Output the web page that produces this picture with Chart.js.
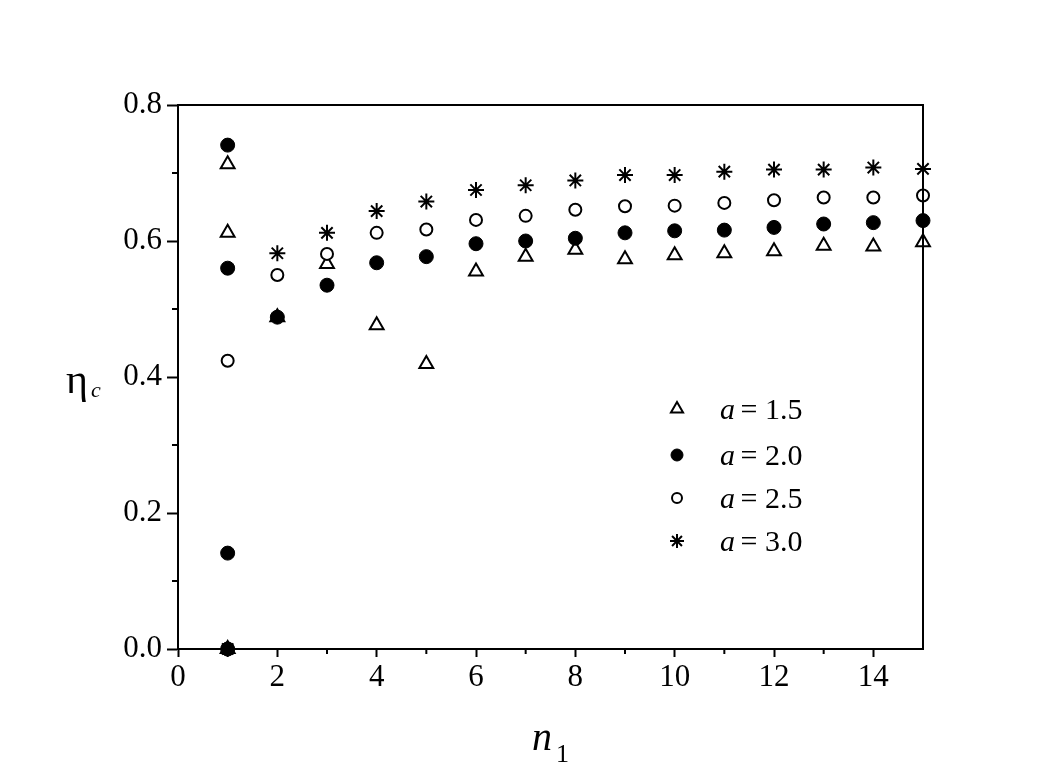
<!DOCTYPE html>
<html>
<head>
<meta charset="utf-8">
<script src="https://cdn.jsdelivr.net/npm/chart.js@4"></script>
<style>
  html, body { margin: 0; padding: 0; background: #fff; }
  #wrap { width: 1064px; height: 777px; }
</style>
</head>
<body>
<div id="wrap"><canvas id="chart" width="1064" height="777"></canvas></div>
<script>
// values
const a15X = [1, 1, 1, 2, 3, 4, 5, 6, 7, 8, 9, 10, 11, 12, 13, 14, 15];
const a15Y = [0.713, 0.612, 0, 0.488, 0.566, 0.476, 0.419, 0.555, 0.577, 0.587, 0.573, 0.579, 0.582, 0.585, 0.593, 0.592, 0.598];
const a20X = [1, 1, 1, 1, 2, 3, 4, 5, 6, 7, 8, 9, 10, 11, 12, 13, 14, 15];
const a20Y = [0.741, 0.560, 0.141, 0, 0.488, 0.535, 0.568, 0.577, 0.596, 0.600, 0.604, 0.612, 0.615, 0.616, 0.620, 0.625, 0.627, 0.630];
const a25X = [1, 1, 2, 3, 4, 5, 6, 7, 8, 9, 10, 11, 12, 13, 14, 15];
const a25Y = [0.424, 0, 0.550, 0.581, 0.612, 0.617, 0.631, 0.637, 0.646, 0.651, 0.652, 0.656, 0.660, 0.664, 0.664, 0.667];
const a30X = [1, 2, 3, 4, 5, 6, 7, 8, 9, 10, 11, 12, 13, 14, 15];
const a30Y = [0, 0.582, 0.612, 0.644, 0.658, 0.675, 0.682, 0.689, 0.697, 0.697, 0.702, 0.705, 0.705, 0.708, 0.706];
const seriesLabels = ['1.5', '2.0', '2.5', '3.0'];

const serif = '"Liberation Serif", "Times New Roman", serif';
const pts = (xs, ys) => xs.map((x, i) => ({ x: x, y: ys[i] }));

// order: lower number is drawn on top, filled circles sit on top like in the figure
const datasets = [
  { label: seriesLabels[0], data: pts(a15X, a15Y), pointStyle: 'triangle', pointRadius: 8, order: 3,
    backgroundColor: '#fff', borderColor: '#000', borderWidth: 2, legR: 7 },
  { label: seriesLabels[1], data: pts(a20X, a20Y), pointStyle: 'circle', pointRadius: 7, order: 0,
    backgroundColor: '#000', borderColor: '#000', borderWidth: 1, legR: 6 },
  { label: seriesLabels[2], data: pts(a25X, a25Y), pointStyle: 'circle', pointRadius: 6, order: 2,
    backgroundColor: '#fff', borderColor: '#000', borderWidth: 2, legR: 5 },
  { label: seriesLabels[3], data: pts(a30X, a30Y), pointStyle: 'star', pointRadius: 8, order: 1,
    backgroundColor: '#000', borderColor: '#000', borderWidth: 2, legR: 7 }
].map(d => Object.assign(d, { showLine: false, clip: false, pointHoverRadius: d.pointRadius }));

// frame, minor ticks, axis titles and the inside legend
const decor = {
  id: 'decor',
  afterDraw(chart) {
    const ctx = chart.ctx, a = chart.chartArea;
    const xs = chart.scales.x, ys = chart.scales.y;
    ctx.save();
    ctx.strokeStyle = '#000';
    ctx.lineWidth = 2;
    ctx.strokeRect(a.left, a.top, a.right - a.left, a.bottom - a.top);

    // minor ticks
    ctx.beginPath();
    for (let v = 1; v < 15; v += 2) {
      const px = xs.getPixelForValue(v);
      ctx.moveTo(px, a.bottom); ctx.lineTo(px, a.bottom + 5);
    }
    for (let v = 0.1; v < 0.8; v += 0.2) {
      const py = ys.getPixelForValue(v);
      ctx.moveTo(a.left, py); ctx.lineTo(a.left - 6, py);
    }
    ctx.stroke();

    // axis titles
    ctx.fillStyle = '#000';
    ctx.textBaseline = 'alphabetic';
    ctx.textAlign = 'left';
    ctx.font = '42px ' + serif;
    ctx.fillText('\u03b7', 66, 393);
    ctx.font = 'italic 22px ' + serif;
    ctx.fillText('c', 91, 397);
    ctx.font = 'italic 40px ' + serif;
    ctx.fillText('n', 532, 750);
    ctx.font = '26px ' + serif;
    ctx.fillText('1', 556, 762);

    // legend
    const rows = [409, 455, 498, 541];
    chart.data.datasets.forEach((d, i) => {
      ctx.fillStyle = d.backgroundColor;
      ctx.strokeStyle = d.borderColor;
      ctx.lineWidth = d.borderWidth;
      Chart.helpers.drawPoint(ctx, { pointStyle: d.pointStyle, radius: d.legR, borderWidth: d.borderWidth }, 677, rows[i]);
      ctx.fillStyle = '#000';
      ctx.font = 'italic 30px ' + serif;
      ctx.fillText('a', 720, rows[i] + 10);
      ctx.font = '30px ' + serif;
      ctx.fillText(' = ' + d.label, 733, rows[i] + 10);
    });
    ctx.restore();
  }
};

new Chart(document.getElementById('chart'), {
  type: 'scatter',
  data: { datasets: datasets },
  options: {
    responsive: false,
    animation: false,
    devicePixelRatio: 1,
    layout: { padding: { left: 0, top: 105, right: 141, bottom: 88 } },
    plugins: { legend: { display: false }, tooltip: { enabled: false } },
    scales: {
      x: {
        type: 'linear', min: 0, max: 15,
        afterFit: s => { s.height = 40; },
        border: { display: true, color: '#000', width: 2 },
        grid: { drawOnChartArea: false, drawTicks: true, tickLength: 8, tickWidth: 2, color: '#000',
                tickColor: c => (c.tick && c.tick.value % 2 === 0 && c.tick.value < 15) ? '#000' : 'rgba(0,0,0,0)' },
        ticks: { stepSize: 1, autoSkip: false, maxRotation: 0, color: '#000', padding: 2,
                 font: { family: serif, size: 31 },
                 callback: v => (v % 2 === 0 && v < 15) ? v : '' }
      },
      y: {
        type: 'linear', min: 0, max: 0.8,
        afterFit: s => { s.width = 178; },
        border: { display: true, color: '#000', width: 2 },
        grid: { drawOnChartArea: false, drawTicks: true, tickLength: 11, tickWidth: 2, color: '#000', tickColor: '#000' },
        ticks: { stepSize: 0.2, color: '#000', padding: 5,
                 font: { family: serif, size: 31 },
                 callback: v => v.toFixed(1) }
      }
    }
  },
  plugins: [decor]
});
</script>
</body>
</html>
